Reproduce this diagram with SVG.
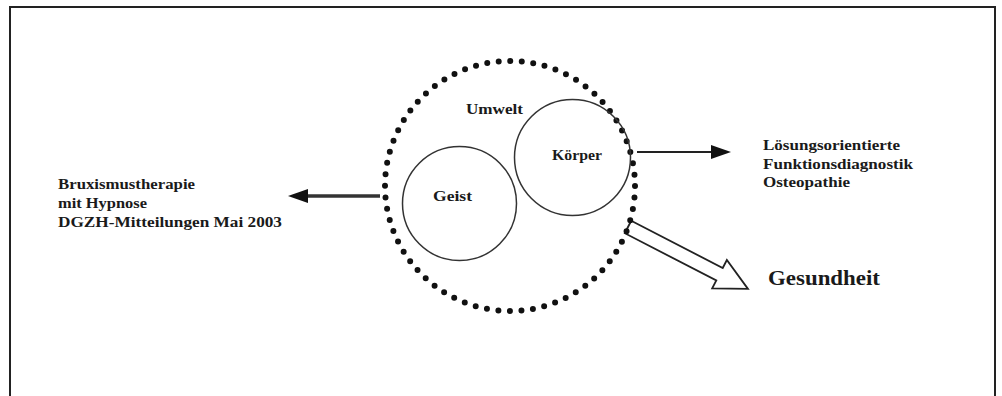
<svg xmlns="http://www.w3.org/2000/svg" width="1002" height="396" viewBox="0 0 1002 396">
<style>
.t{font-family:"Liberation Serif","Times New Roman",serif;font-weight:bold;fill:#1a1a1a;}
.s{font-size:15px;}
.c{fill:none;stroke:#333;stroke-width:1.5;}
</style>
<rect width="1002" height="396" fill="#fff"/>
<rect id="frame" x="10" y="7" width="985" height="400" fill="none" stroke="#222" stroke-width="2"/>
<g id="connectors">
<line x1="380" y1="196" x2="306" y2="196" stroke="#333" stroke-width="3.5"/>
<path d="M288,196 L308,189 L308,203 z" fill="#111"/>
<line x1="637" y1="152" x2="714" y2="152" stroke="#222" stroke-width="2"/>
<path d="M731,152 L711,145 L711,159 z" fill="#111"/>
<polygon transform="translate(628,227) rotate(27.3)" points="0,-7 103,-7 103,-16 135,0 103,16 103,7 0,7" fill="#fff" stroke="#222" stroke-width="1.8" stroke-linejoin="miter"/>
</g>
<g id="umwelt">
<circle cx="510" cy="186" r="125" fill="none" stroke="#111" stroke-width="6" stroke-linecap="round" stroke-dasharray="0 11.55"/>
<text class="t" x="466" y="114" font-size="14" textLength="57" lengthAdjust="spacingAndGlyphs">Umwelt</text>
</g>
<g id="geist">
<circle class="c" cx="459.5" cy="203.5" r="57"/>
<text class="t" x="433" y="201" font-size="14" textLength="39" lengthAdjust="spacingAndGlyphs">Geist</text>
</g>
<g id="koerper">
<circle class="c" cx="572.5" cy="157.5" r="58"/>
<text class="t" x="552" y="160" font-size="14" textLength="50" lengthAdjust="spacingAndGlyphs">Körper</text>
</g>
<g id="left-text">
<text class="t s" x="58" y="189" textLength="137" lengthAdjust="spacingAndGlyphs">Bruxismustherapie</text>
<text class="t s" x="58" y="208" textLength="89" lengthAdjust="spacingAndGlyphs">mit Hypnose</text>
<text class="t s" x="58" y="227" textLength="224" lengthAdjust="spacingAndGlyphs">DGZH-Mitteilungen Mai 2003</text>
</g>
<g id="right-text">
<text class="t s" x="763" y="150" textLength="137" lengthAdjust="spacingAndGlyphs">Lösungsorientierte</text>
<text class="t s" x="763" y="168.5" textLength="150" lengthAdjust="spacingAndGlyphs">Funktionsdiagnostik</text>
<text class="t s" x="763" y="187" textLength="87" lengthAdjust="spacingAndGlyphs">Osteopathie</text>
</g>
<g id="gesundheit">
<text class="t" x="768" y="285" font-size="21" textLength="112" lengthAdjust="spacingAndGlyphs">Gesundheit</text>
</g>
</svg>
